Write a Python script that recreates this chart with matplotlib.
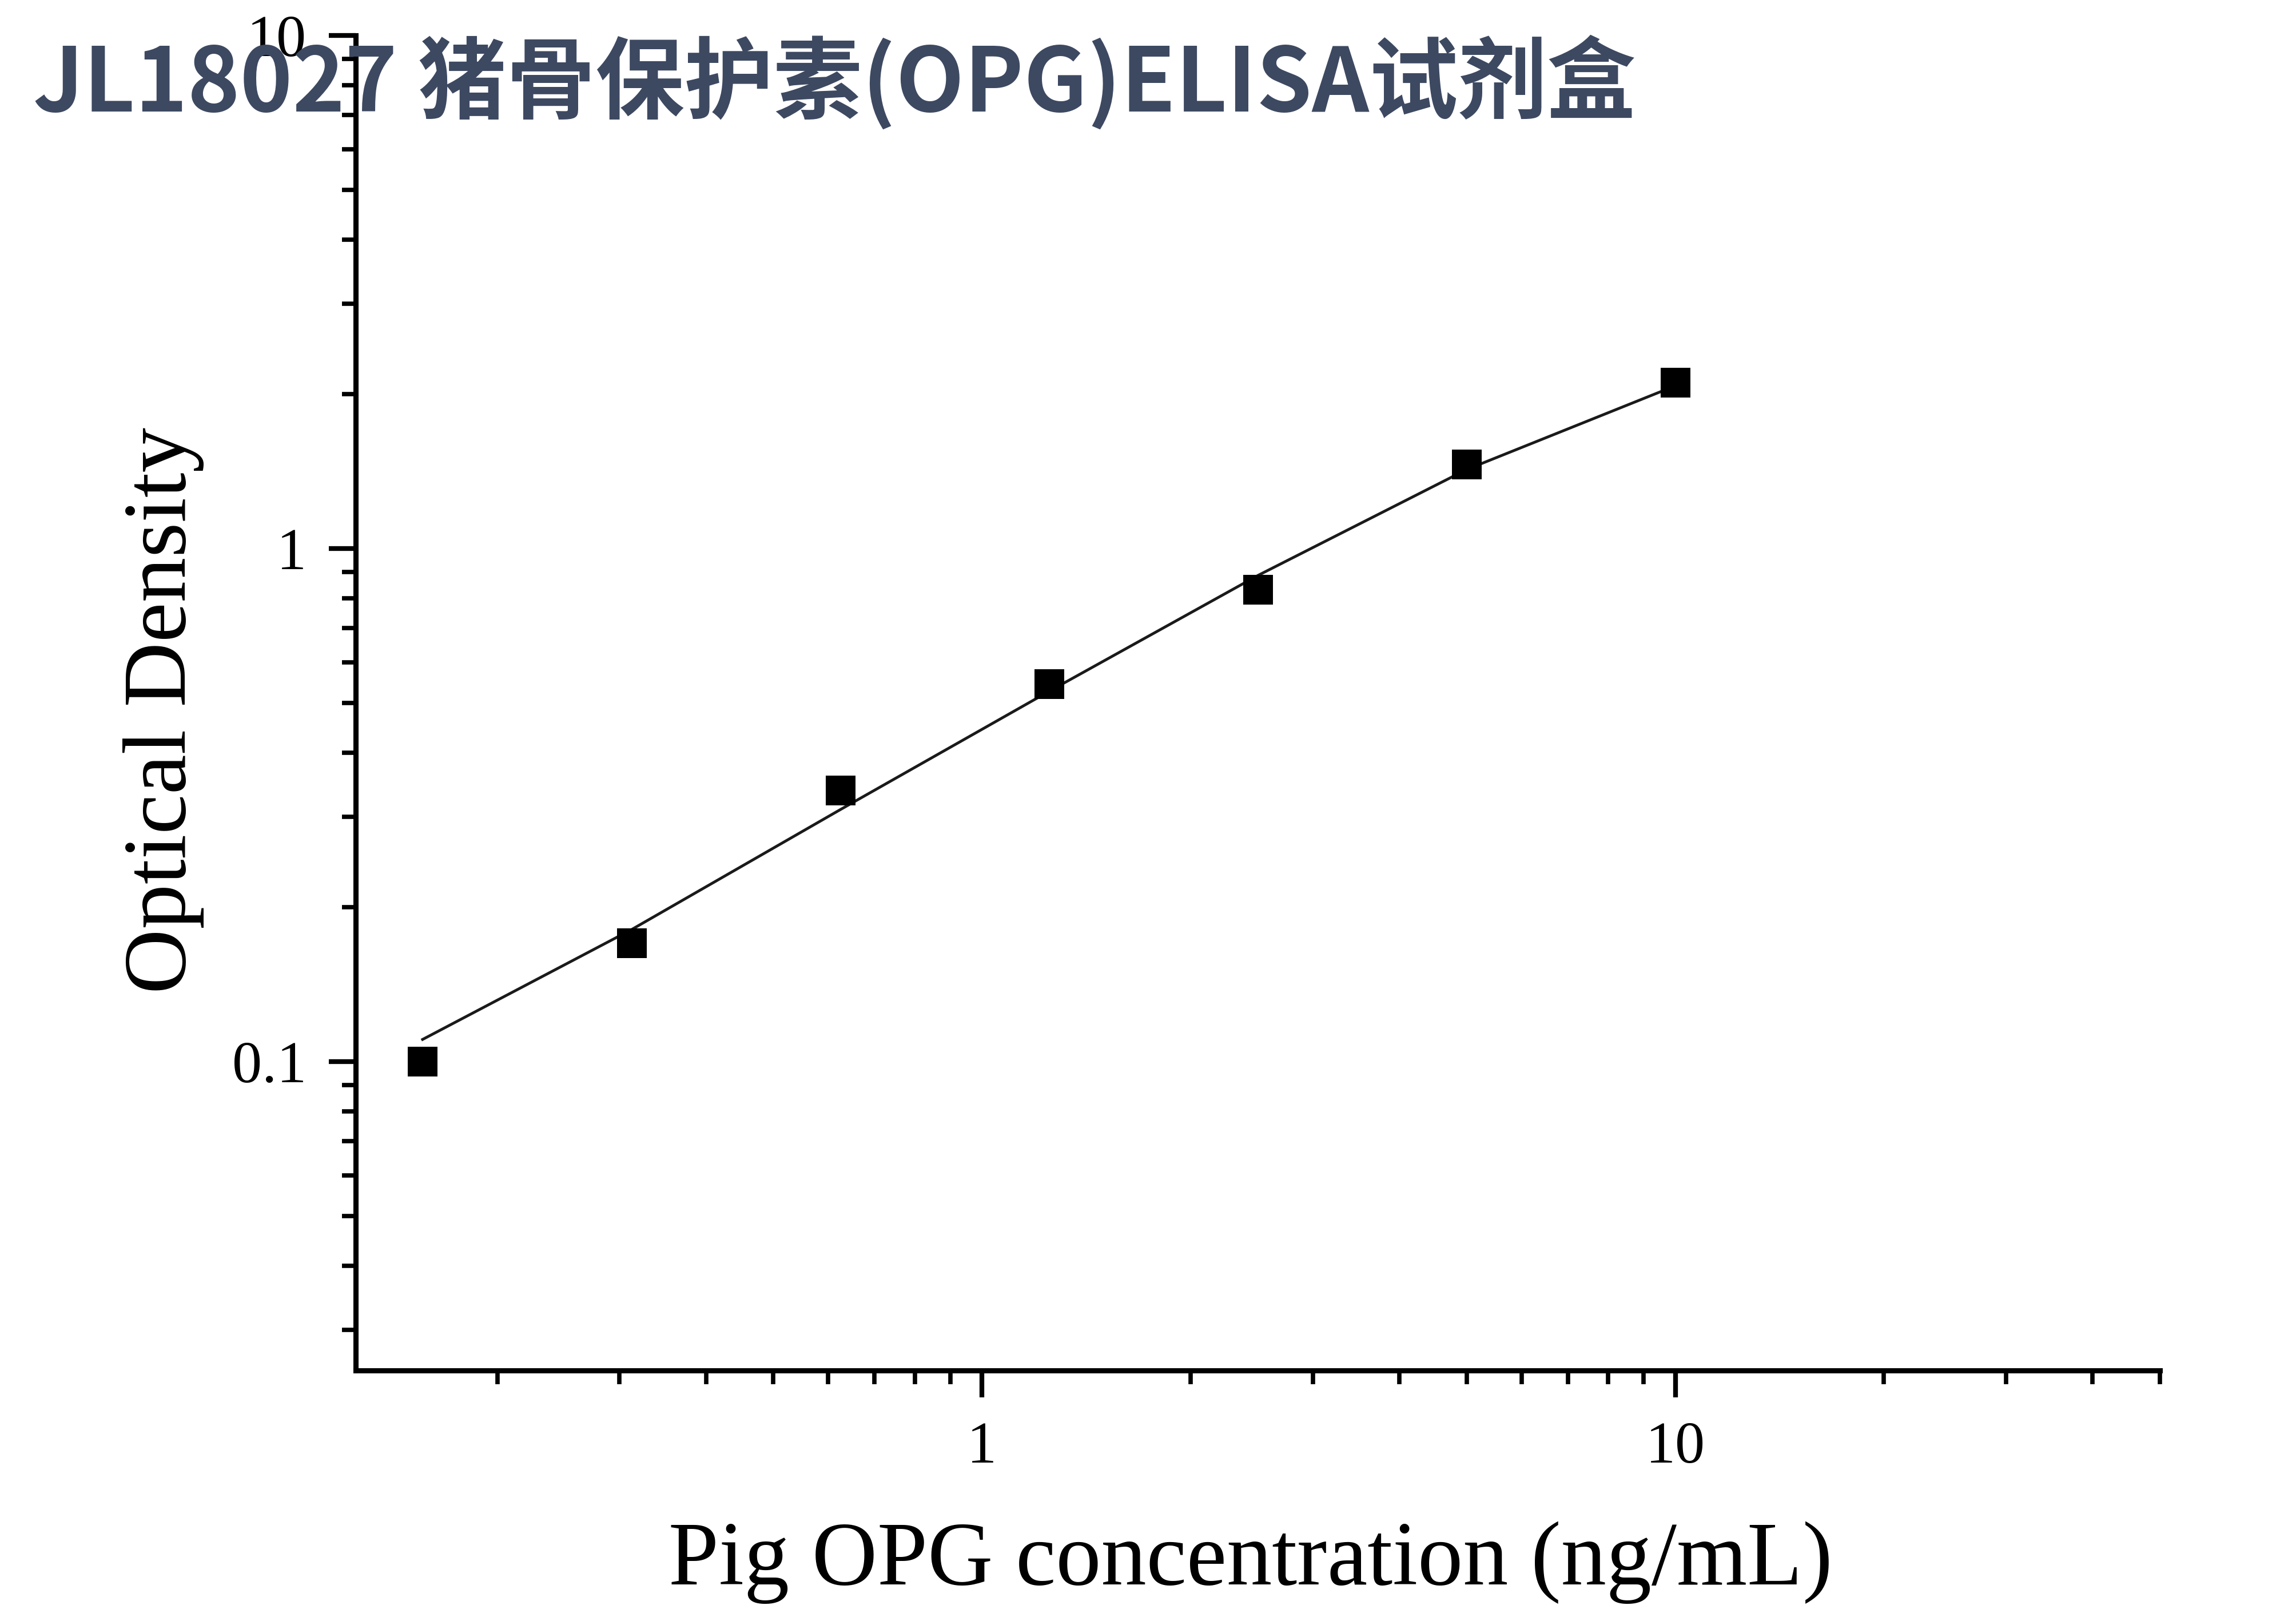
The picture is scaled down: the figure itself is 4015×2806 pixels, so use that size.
import numpy as np
import matplotlib.pyplot as plt
from matplotlib.ticker import LogLocator, FixedLocator, NullFormatter

conc = [0.156, 0.3125, 0.625, 1.25, 2.5, 5, 10]
od = [0.100, 0.170, 0.338, 0.544, 0.832, 1.458, 2.105]

# fitted curve as drawn in the picture
curve_x = [0.156, 0.3125, 0.625, 1.25, 2.5, 5, 10]
curve_y = [0.1105, 0.181, 0.310, 0.527, 0.886, 1.425, 2.075]

x_ticks = [1, 10]
x_ticklabels = ["1", "10"]
y_ticks = [0.1, 1, 10]
y_ticklabels = ["0.1", "1", "10"]

title = "JL18027 猪骨保护素(OPG)ELISA试剂盒"
xlabel = "Pig OPG concentration (ng/mL)"
ylabel = "Optical Density"

serif = "Liberation Serif"

fig = plt.figure(figsize=(40.15, 28.06), dpi=100)
ax = fig.add_axes([0.155, 0.146, 0.7857, 0.832])

ax.plot(curve_x, curve_y, color="#1a1a1a", lw=3.5, zorder=2)
ax.plot(conc, od, ls="none", marker="s", ms=37, mew=0, color="black", zorder=3)

ax.set_xscale("log")
ax.set_yscale("log")
ax.set_xlim(0.125, 50)
ax.set_ylim(0.025, 10)

for side in ["top", "right"]:
    ax.spines[side].set_visible(False)
for side in ["left", "bottom"]:
    ax.spines[side].set_linewidth(6.5)

ax.xaxis.set_major_locator(FixedLocator(x_ticks))
ax.set_xticklabels(x_ticklabels)
ax.yaxis.set_major_locator(FixedLocator(y_ticks))
ax.set_yticklabels(y_ticklabels)
ax.xaxis.set_minor_locator(LogLocator(base=10, subs=np.arange(2, 10)))
ax.yaxis.set_minor_locator(LogLocator(base=10, subs=np.arange(2, 10)))
ax.xaxis.set_minor_formatter(NullFormatter())
ax.yaxis.set_minor_formatter(NullFormatter())

ax.tick_params(which="major", direction="out", length=34, width=6, labelsize=75)
ax.tick_params(which="minor", direction="out", length=17, width=5.5)
ax.tick_params(axis="x", which="major", pad=30)
ax.tick_params(axis="y", which="major", pad=28)
for lab in ax.get_xticklabels() + ax.get_yticklabels():
    lab.set_fontfamily(serif)

fig.text(0.5447, 0.013, xlabel, ha="center", va="baseline",
         fontsize=114, family=serif)
fig.text(0.0712, 0.5574, ylabel, ha="center", va="center", rotation=90,
         fontsize=113, family=serif)

fig.text(0.0145, 0.9305, title, ha="left", va="baseline", fontsize=112,
         fontweight="bold", color="#3d4961",
         family=["Noto Sans CJK SC", "DejaVu Sans"])

fig.savefig("out.png", dpi=100, facecolor="white")
